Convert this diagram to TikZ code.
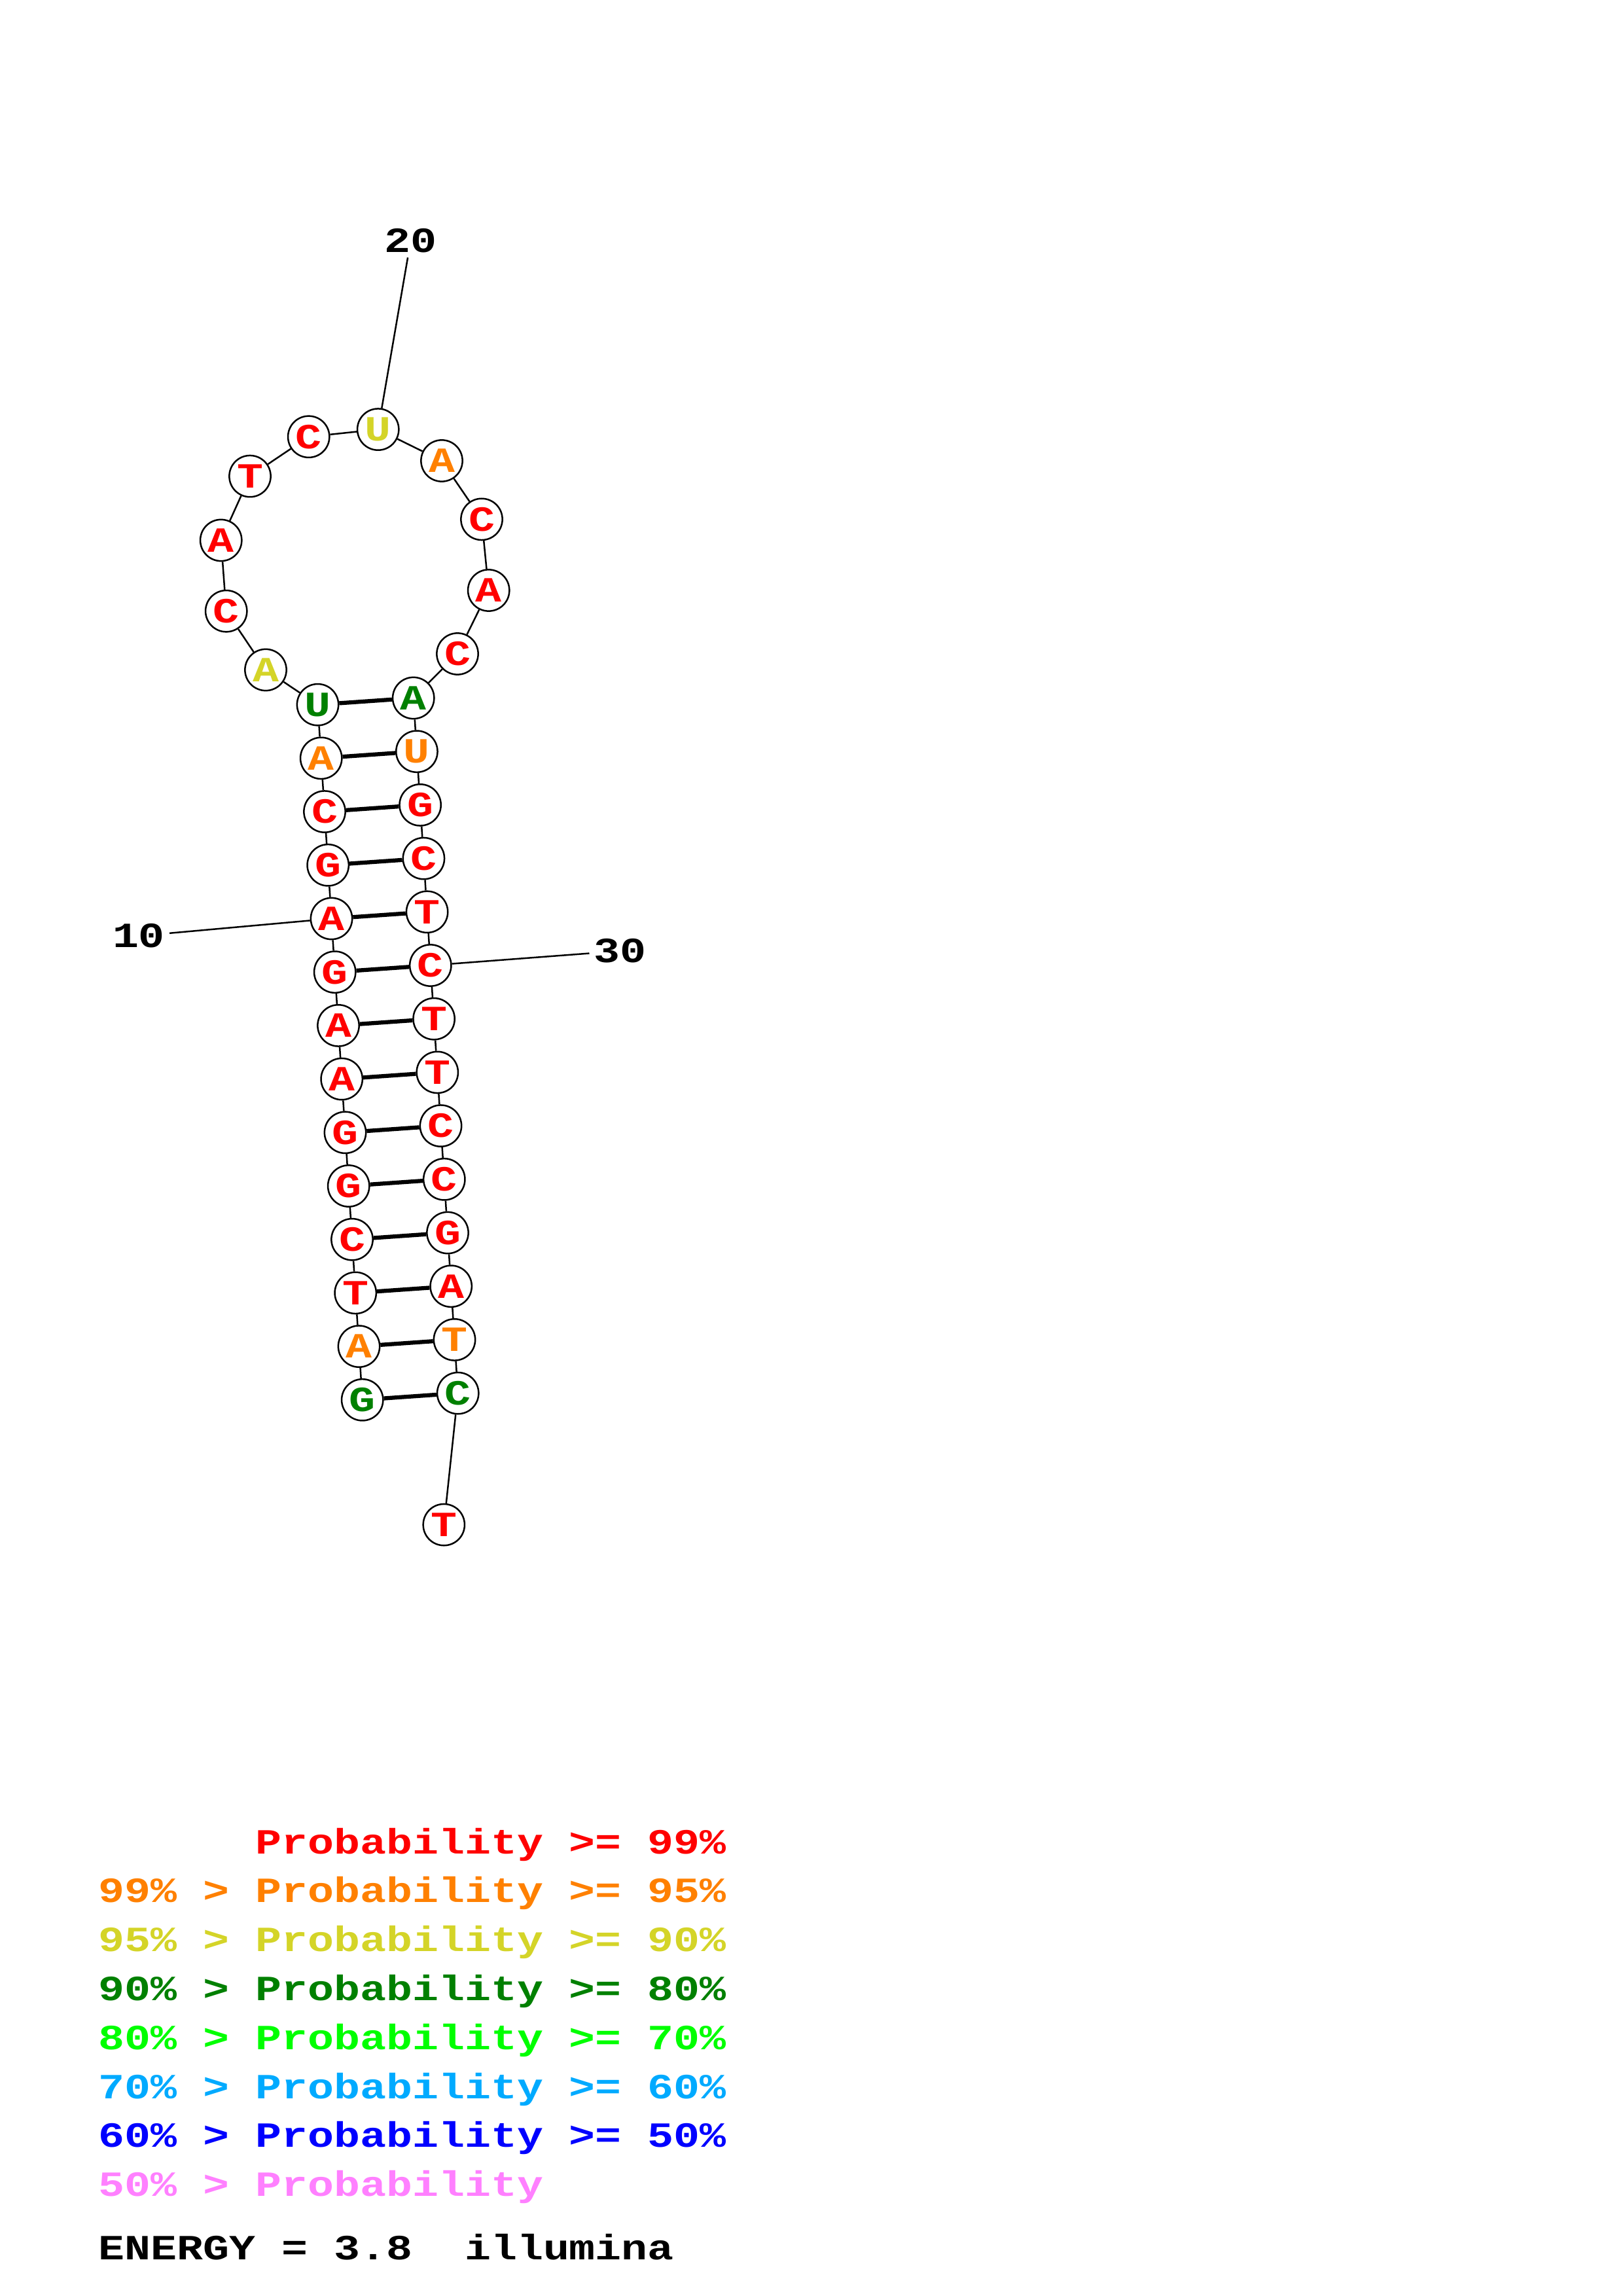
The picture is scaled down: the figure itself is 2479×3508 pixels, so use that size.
\documentclass[tikz,border=0pt]{standalone}
\usepackage{fontspec}
\newfontfamily\cour[FakeStretch=1.23]{Liberation Mono}
\usepackage{tikz}
\usepackage{xcolor}
\definecolor{pr99}{RGB}{255,0,0}
\definecolor{pr95}{RGB}{255,128,0}
\definecolor{pr90}{RGB}{212,212,40}
\definecolor{pr80}{RGB}{0,128,0}
\definecolor{pr70}{RGB}{0,255,0}
\definecolor{pr60}{RGB}{0,170,255}
\definecolor{pr50}{RGB}{0,0,255}
\definecolor{prlow}{RGB}{255,128,255}
\newcommand{\courfont}{\cour\bfseries\fontsize{13}{15}\selectfont}

\begin{document}
\begin{tikzpicture}[
  x=0.24014pt, y=-0.24014pt,
  base/.style={circle, draw, line width=0.6pt, fill=white, minimum size=15.2pt,
               inner sep=0pt, font=\courfont, text=#1},
  backbone/.style={line width=0.6pt},
  pair/.style={line width=1.5pt},
  num/.style={inner sep=1.5pt, font=\courfont},
  legend/.style={anchor=base west, inner sep=0pt, font=\courfont, text=#1}
]
\useasboundingbox (0,0) rectangle (2479,3508);

%% 5' strand of the stem
\node[base=pr80] (b1)  at (553.7,2138.8) {G};
\node[base=pr95] (b2)  at (548.5,2057.1) {A};
\node[base=pr99] (b3)  at (543.2,1975.4) {T};
\node[base=pr99] (b4)  at (538.0,1893.7) {C};
\node[base=pr99] (b5)  at (532.7,1812.0) {G};
\node[base=pr99] (b6)  at (527.5,1730.3) {G};
\node[base=pr99] (b7)  at (522.2,1648.6) {A};
\node[base=pr99] (b8)  at (517.0,1566.9) {A};
\node[base=pr99] (b9)  at (511.7,1485.2) {G};
\node[base=pr99] (b10) at (506.5,1403.5) {A};
\node[base=pr99] (b11) at (501.2,1321.8) {G};
\node[base=pr99] (b12) at (496.0,1240.1) {C};
\node[base=pr95] (b13) at (490.7,1158.4) {A};
\node[base=pr80] (b14) at (485.5,1076.7) {U};

%% Hairpin loop
\node[base=pr90] (b15) at (406.0,1023.5) {A};
\node[base=pr99] (b16) at (345.7,933.7) {C};
\node[base=pr99] (b17) at (337.7,825.5) {A};
\node[base=pr99] (b18) at (382.0,727.6) {T};
\node[base=pr99] (b19) at (471.7,667.3) {C};
\node[base=pr90] (b20) at (577.7,656.1) {U};
\node[base=pr95] (b21) at (675.0,704.0) {A};
\node[base=pr99] (b22) at (736.0,793.4) {C};
\node[base=pr99] (b23) at (746.7,902.0) {A};
\node[base=pr99] (b24) at (699.0,999.0) {C};

%% 3' strand of the stem
\node[base=pr80] (b25) at (631.7,1066.5) {A};
\node[base=pr95] (b26) at (636.9,1148.2) {U};
\node[base=pr99] (b27) at (642.1,1229.9) {G};
\node[base=pr99] (b28) at (647.4,1311.6) {C};
\node[base=pr99] (b29) at (652.6,1393.3) {T};
\node[base=pr99] (b30) at (657.8,1475.0) {C};
\node[base=pr99] (b31) at (663.1,1556.7) {T};
\node[base=pr99] (b32) at (668.3,1638.4) {T};
\node[base=pr99] (b33) at (673.5,1720.1) {C};
\node[base=pr99] (b34) at (678.8,1801.8) {C};
\node[base=pr99] (b35) at (684.0,1883.5) {G};
\node[base=pr99] (b36) at (689.2,1965.2) {A};
\node[base=pr95] (b37) at (694.5,2046.9) {T};
\node[base=pr80] (b38) at (699.7,2128.6) {C};
\node[base=pr99] (b39) at (678.3,2329.6) {T};

%% Backbone
\draw[backbone] (b1) -- (b2) -- (b3) -- (b4) -- (b5) -- (b6) -- (b7) -- (b8)
  -- (b9) -- (b10) -- (b11) -- (b12) -- (b13) -- (b14) -- (b15) -- (b16)
  -- (b17) -- (b18) -- (b19) -- (b20) -- (b21) -- (b22) -- (b23) -- (b24)
  -- (b25) -- (b26) -- (b27) -- (b28) -- (b29) -- (b30) -- (b31) -- (b32)
  -- (b33) -- (b34) -- (b35) -- (b36) -- (b37) -- (b38) -- (b39);

%% Base pairs
\draw[pair] (b1) -- (b38);  \draw[pair] (b2) -- (b37);  \draw[pair] (b3) -- (b36);
\draw[pair] (b4) -- (b35);  \draw[pair] (b5) -- (b34);  \draw[pair] (b6) -- (b33);
\draw[pair] (b7) -- (b32);  \draw[pair] (b8) -- (b31);  \draw[pair] (b9) -- (b30);
\draw[pair] (b10) -- (b29); \draw[pair] (b11) -- (b28); \draw[pair] (b12) -- (b27);
\draw[pair] (b13) -- (b26); \draw[pair] (b14) -- (b25);

%% Position numbers
\node[num] (lab10) at (212,1430) {10};
\node[num] (lab20) at (627.5,368) {20};
\node[num] (lab30) at (947.5,1453) {30};
\draw[backbone] (lab10) -- (b10);
\draw[backbone] (lab20) -- (b20);
\draw[backbone] (lab30) -- (b30);

%% Legend
\node[legend=pr99]  (leg99)  at (150,2832.0) {\hphantom{99\% > }Probability >= 99\%};
\node[legend=pr95]  (leg95)  at (150,2906.8) {99\% > Probability >= 95\%};
\node[legend=pr90]  (leg90)  at (150,2981.6) {95\% > Probability >= 90\%};
\node[legend=pr80]  (leg80)  at (150,3056.4) {90\% > Probability >= 80\%};
\node[legend=pr70]  (leg70)  at (150,3131.2) {80\% > Probability >= 70\%};
\node[legend=pr60]  (leg60)  at (150,3206.0) {70\% > Probability >= 60\%};
\node[legend=pr50]  (leg50)  at (150,3280.8) {60\% > Probability >= 50\%};
\node[legend=prlow] (leglow) at (150,3355.6) {50\% > Probability};
\node[legend=black] (energy) at (150,3452.0) {ENERGY = 3.8\ \ illumina};

\end{tikzpicture}
\end{document}
